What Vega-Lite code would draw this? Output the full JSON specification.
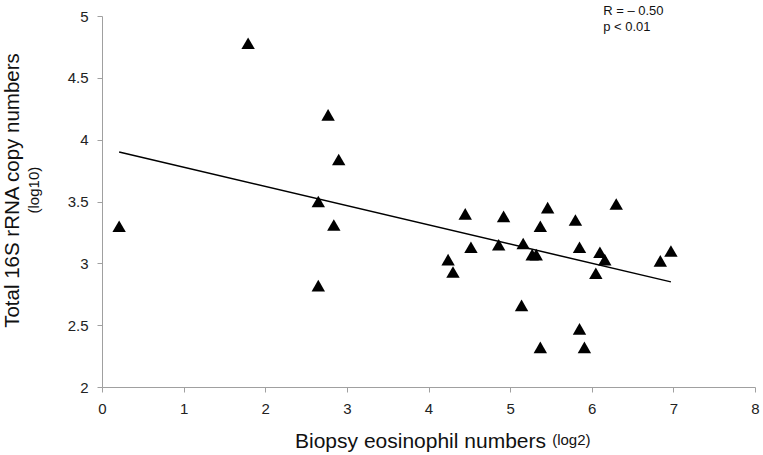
{
  "$schema": "https://vega.github.io/schema/vega-lite/v6.json",
  "width": 653,
  "height": 371,
  "autosize": {"type": "none"},
  "padding": {"left": 102, "top": 16, "right": 8, "bottom": 68},
  "background": "white",
  "config": {
    "font": "Liberation Sans",
    "view": {"stroke": null},
    "axis": {
      "domainColor": "#a0a0a0",
      "tickColor": "#a0a0a0",
      "domainWidth": 1,
      "tickSize": 5,
      "grid": false,
      "labelFlush": false,
      "labelFont": "Liberation Sans",
      "labelFontSize": 15,
      "labelColor": "#222222",
      "titleFont": "Liberation Sans",
      "titleFontWeight": "normal",
      "titleColor": "#111111"
    }
  },
  "datasets": {
    "points": [
      {"eos": 0.21, "rrna": 3.30},
      {"eos": 1.79, "rrna": 4.78},
      {"eos": 2.65, "rrna": 3.50},
      {"eos": 2.65, "rrna": 2.82},
      {"eos": 2.77, "rrna": 4.20},
      {"eos": 2.84, "rrna": 3.31},
      {"eos": 2.90, "rrna": 3.84},
      {"eos": 4.24, "rrna": 3.03},
      {"eos": 4.30, "rrna": 2.93},
      {"eos": 4.45, "rrna": 3.40},
      {"eos": 4.52, "rrna": 3.13},
      {"eos": 4.86, "rrna": 3.15},
      {"eos": 4.92, "rrna": 3.38},
      {"eos": 5.14, "rrna": 2.66},
      {"eos": 5.16, "rrna": 3.16},
      {"eos": 5.27, "rrna": 3.07},
      {"eos": 5.32, "rrna": 3.07},
      {"eos": 5.37, "rrna": 3.30},
      {"eos": 5.37, "rrna": 2.32},
      {"eos": 5.46, "rrna": 3.45},
      {"eos": 5.80, "rrna": 3.35},
      {"eos": 5.85, "rrna": 3.13},
      {"eos": 5.85, "rrna": 2.47},
      {"eos": 5.91, "rrna": 2.32},
      {"eos": 6.05, "rrna": 2.92},
      {"eos": 6.10, "rrna": 3.09},
      {"eos": 6.16, "rrna": 3.03},
      {"eos": 6.30, "rrna": 3.48},
      {"eos": 6.84, "rrna": 3.02},
      {"eos": 6.97, "rrna": 3.10}
    ],
    "fit": [
      {"eos": 0.21, "rrna": 3.90},
      {"eos": 6.97, "rrna": 2.85}
    ],
    "stats": [
      {"eos": 6.14, "rrna": 5.04, "label": "R = – 0.50"},
      {"eos": 6.14, "rrna": 4.91, "label": "p < 0.01"}
    ],
    "ylab": [
      {"eos": -0.833, "rrna": 3.592, "label": "(log10)"}
    ],
    "xlab": [
      {"eos": 5.515, "rrna": 1.570, "label": "(log2)"}
    ]
  },
  "layer": [
    {
      "data": {"name": "points"},
      "mark": {"type": "point", "shape": "triangle-up", "filled": true, "color": "#000000", "opacity": 1, "size": 180},
      "encoding": {
        "x": {
          "field": "eos", "type": "quantitative",
          "scale": {"domain": [0, 8], "nice": false, "zero": false},
          "axis": {
            "values": [0, 1, 2, 3, 4, 5, 6, 7, 8],
            "format": "~g",
            "labelPadding": 9,
            "title": "Biopsy eosinophil numbers",
            "titleFontSize": 21,
            "titleAlign": "center",
            "titleBaseline": "middle",
            "titleX": 318,
            "titleY": 54
          }
        },
        "y": {
          "field": "rrna", "type": "quantitative",
          "scale": {"domain": [2, 5], "nice": false, "zero": false},
          "axis": {
            "values": [2, 2.5, 3, 3.5, 4, 4.5, 5],
            "format": "~g",
            "labelPadding": 9,
            "title": "Total 16S rRNA copy numbers",
            "titleFontSize": 20.5,
            "titleAngle": 270,
            "titleAlign": "center",
            "titleBaseline": "middle",
            "titleX": -90,
            "titleY": 174
          }
        }
      }
    },
    {
      "data": {"name": "fit"},
      "mark": {"type": "line", "color": "#000000", "strokeWidth": 1.5},
      "encoding": {
        "x": {"field": "eos", "type": "quantitative"},
        "y": {"field": "rrna", "type": "quantitative"}
      }
    },
    {
      "data": {"name": "stats"},
      "mark": {"type": "text", "align": "left", "baseline": "middle", "fontSize": 13, "color": "#111111"},
      "encoding": {
        "x": {"field": "eos", "type": "quantitative"},
        "y": {"field": "rrna", "type": "quantitative"},
        "text": {"field": "label"}
      }
    },
    {
      "data": {"name": "ylab"},
      "mark": {"type": "text", "align": "center", "baseline": "middle", "angle": 270, "fontSize": 15, "color": "#111111"},
      "encoding": {
        "x": {"field": "eos", "type": "quantitative"},
        "y": {"field": "rrna", "type": "quantitative"},
        "text": {"field": "label"}
      }
    },
    {
      "data": {"name": "xlab"},
      "mark": {"type": "text", "align": "left", "baseline": "middle", "fontSize": 15, "color": "#111111"},
      "encoding": {
        "x": {"field": "eos", "type": "quantitative"},
        "y": {"field": "rrna", "type": "quantitative"},
        "text": {"field": "label"}
      }
    }
  ]
}
